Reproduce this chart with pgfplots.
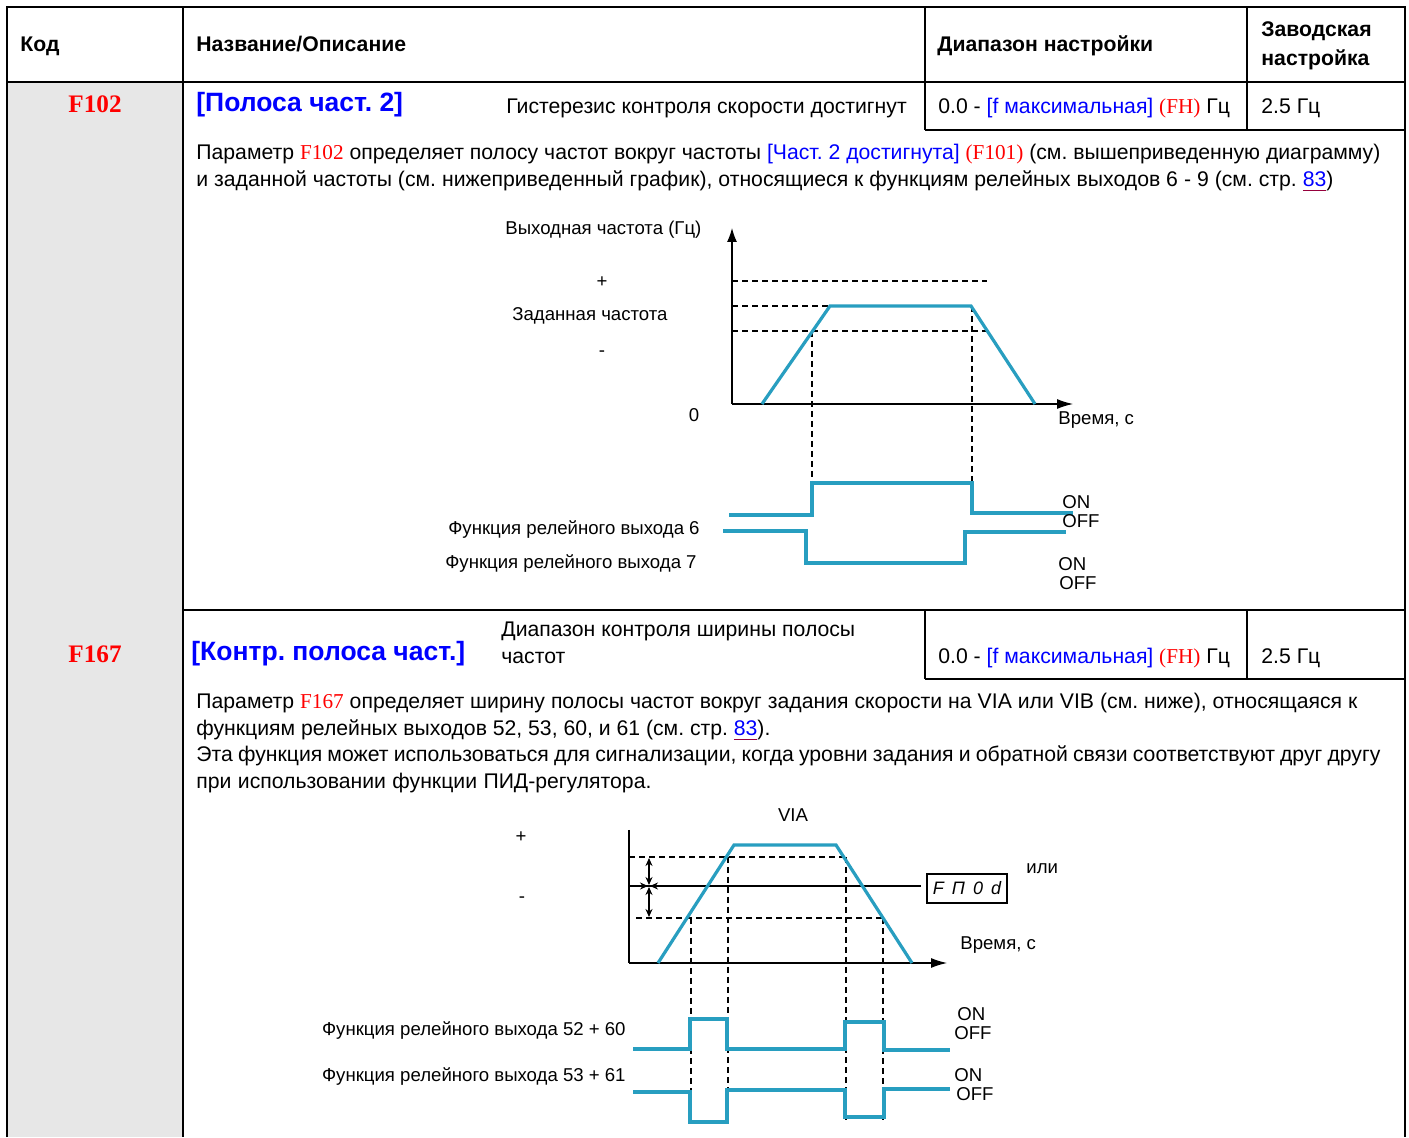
\documentclass[border=0pt]{standalone}
\usepackage{fontspec}
\setmainfont{Liberation Sans}
\newfontfamily\serifr{Liberation Serif}
\usepackage{pgfplots}
\pgfplotsset{compat=1.18}
\usetikzlibrary{arrows.meta}
\tikzset{every node/.style={inner sep=0pt}}
\definecolor{tl}{RGB}{40,158,192}
\definecolor{gr}{RGB}{231,231,231}
\definecolor{ulc}{RGB}{150,0,60}
\frenchspacing
\newcommand{\fs}[1]{\fontsize{#1}{#1}\selectfont}
\newcommand{\rd}[1]{{\serifr\color{red}#1}}
\newcommand{\bl}[1]{{\color{blue}#1}}
\newcommand{\lnk}[1]{\setbox0\hbox{#1}\rlap{\color{ulc}\rule[-2pt]{\wd0}{0.7pt}}{\color{blue}#1}}
\newcommand{\jl}[2]{\hbox to #1{#2}}
\newcommand{\bd}{\fs{10.6}}
\newcommand{\dg}{\fs{9.3}}
\newcommand{\hd}{\fs{10.6}\bfseries}
\newcommand{\ttl}{\fs{13.25}\bfseries\color{blue}}
\begin{document}
\begin{tikzpicture}
\begin{axis}[width=704.5pt,height=568.5pt,scale only axis,xmin=0,xmax=1409,ymin=0,ymax=1137,y dir=reverse,hide axis,clip=false,no markers]
% background
\addplot[fill=white,draw=none] coordinates {(0,0) (1409,0) (1409,1137) (0,1137)} -- cycle;
\addplot[fill=gr,draw=none] coordinates {(7,82) (183,82) (183,1137) (7,1137)} -- cycle;
% table lines
\addplot[black,line width=0.8pt] coordinates {(7,1137) (7,7) (1405,7) (1405,1137)};
\addplot[black,line width=0.8pt] coordinates {(7,82) (1405,82)};
\addplot[black,line width=0.8pt] coordinates {(183,7) (183,1137)};
\addplot[black,line width=0.8pt] coordinates {(925,7) (925,130)};
\addplot[black,line width=0.8pt] coordinates {(1247,7) (1247,130)};
\addplot[black,line width=0.8pt] coordinates {(925,130) (1405,130)};
\addplot[black,line width=0.8pt] coordinates {(183,610) (1405,610)};
\addplot[black,line width=0.8pt] coordinates {(925,610) (925,679)};
\addplot[black,line width=0.8pt] coordinates {(1247,610) (1247,679)};
\addplot[black,line width=0.8pt] coordinates {(925,679) (1405,679)};
% header
\node[anchor=base west] at (axis cs:20,52) {\hd Код};
\node[anchor=base west] at (axis cs:196,52) {\hd Название/Описание};
\node[anchor=base west] at (axis cs:937,52) {\hd Диапазон настройки};
\node[anchor=base west] at (axis cs:1261,37) {\hd Заводская};
\node[anchor=base west] at (axis cs:1261,66) {\hd настройка};
% F102 row
\node[anchor=base] at (axis cs:95,113) {\fs{12.6}\serifr\bfseries\color{red}F102};
\node[anchor=base west] at (axis cs:196,112) {\ttl [Полоса част. 2]};
\node[anchor=base west] at (axis cs:506,114) {\bd Гистерезис контроля скорости достигнут};
\node[anchor=base west] at (axis cs:938,114) {\bd 0.0 - \bl{[f максимальная]} \rd{(FH)} Гц};
\node[anchor=base west] at (axis cs:1261,114) {\bd 2.5 Гц};
\node[anchor=base west] at (axis cs:196,160) {\bd\jl{592pt}{Параметр \rd{F102} определяет полосу частот вокруг частоты \bl{[Част. 2 достигнута]} \rd{(F101)} (см. вышеприведенную диаграмму)}};
\node[anchor=base west] at (axis cs:196,187) {\bd\jl{568.5pt}{и заданной частоты (см. нижеприведенный график), относящиеся к функциям релейных выходов 6 - 9 (см. стр. \lnk{83})}};
% diagram 1
\addplot[black,line width=0.6pt,-{Latex[length=7pt,width=5pt]}] coordinates {(732,404) (732,228)};
\addplot[black,line width=0.6pt,-{Latex[length=8pt,width=5pt]}] coordinates {(732,404) (1073,404)};
\addplot[black,line width=0.6pt,dash pattern=on 3pt off 2pt] coordinates {(732,281) (987,281)};
\addplot[black,line width=0.6pt,dash pattern=on 3pt off 2pt] coordinates {(732,306) (830,306)};
\addplot[black,line width=0.6pt,dash pattern=on 3pt off 2pt] coordinates {(732,331) (987,331)};
\addplot[black,line width=0.6pt,dash pattern=on 3pt off 2pt] coordinates {(812,331) (812,483)};
\addplot[black,line width=0.6pt,dash pattern=on 3pt off 2pt] coordinates {(972,306) (972,483)};
\addplot[tl,line width=1.6pt] coordinates {(762,404) (830,306) (971,306) (1035,404)};
\addplot[tl,line width=1.6pt] coordinates {(729,515) (812,515) (812,483) (972,483) (972,513) (1073,513)};
\addplot[tl,line width=1.6pt] coordinates {(723,531) (806,531) (806,563) (965,563) (965,532) (1066,532)};
\node[anchor=base west] at (axis cs:505,235) {\dg Выходная частота (Гц)};
\node[anchor=base] at (axis cs:602,288) {\dg +};
\node[anchor=base west] at (axis cs:512,321) {\dg Заданная частота};
\node[anchor=base] at (axis cs:602,357) {\dg -};
\node[anchor=base] at (axis cs:694,422) {\dg 0};
\node[anchor=base west] at (axis cs:1058,425) {\dg Время, с};
\node[anchor=base east] at (axis cs:700,535) {\dg Функция релейного выхода 6};
\node[anchor=base east] at (axis cs:697,569) {\dg Функция релейного выхода 7};
\node[anchor=base west] at (axis cs:1062,509) {\dg ON};
\node[anchor=base west] at (axis cs:1062,528) {\dg OFF};
\node[anchor=base west] at (axis cs:1058,571) {\dg ON};
\node[anchor=base west] at (axis cs:1059,590) {\dg OFF};
% F167 row
\node[anchor=base] at (axis cs:95,663) {\fs{12.6}\serifr\bfseries\color{red}F167};
\node[anchor=base west] at (axis cs:191,661) {\ttl [Контр. полоса част.]};
\node[anchor=base west] at (axis cs:501,637) {\bd Диапазон контроля ширины полосы};
\node[anchor=base west] at (axis cs:501,664) {\bd частот};
\node[anchor=base west] at (axis cs:938,664) {\bd 0.0 - \bl{[f максимальная]} \rd{(FH)} Гц};
\node[anchor=base west] at (axis cs:1261,664) {\bd 2.5 Гц};
\node[anchor=base west] at (axis cs:196,709) {\bd\jl{580.5pt}{Параметр \rd{F167} определяет ширину полосы частот вокруг задания скорости на VIA или VIB (см. ниже), относящаяся к}};
\node[anchor=base west] at (axis cs:196,736) {\bd\jl{287pt}{функциям релейных выходов 52, 53, 60, и 61 (см. стр. \lnk{83}).}};
\node[anchor=base west] at (axis cs:196,762) {\bd\jl{592pt}{Эта функция может использоваться для сигнализации, когда уровни задания и обратной связи соответствуют друг другу}};
\node[anchor=base west] at (axis cs:196,789) {\bd\jl{227.5pt}{при использовании функции ПИД-регулятора.}};
% diagram 2
\addplot[black,line width=0.6pt] coordinates {(629,830) (629,963)};
\addplot[black,line width=0.6pt,-{Latex[length=8pt,width=5pt]}] coordinates {(629,963) (947,963)};
\addplot[black,line width=0.6pt] coordinates {(629,886) (921,886)};
\addplot[black,line width=0.6pt,dash pattern=on 3pt off 2pt] coordinates {(629,857) (846,857)};
\addplot[black,line width=0.6pt,dash pattern=on 3pt off 2pt] coordinates {(636,918) (883,918)};
\addplot[black,line width=0.6pt,dash pattern=on 3pt off 2pt] coordinates {(691,918) (691,1120)};
\addplot[black,line width=0.6pt,dash pattern=on 3pt off 2pt] coordinates {(728,857) (728,1120)};
\addplot[black,line width=0.6pt,dash pattern=on 3pt off 2pt] coordinates {(846,857) (846,1120)};
\addplot[black,line width=0.6pt,dash pattern=on 3pt off 2pt] coordinates {(883,918) (883,1120)};
\addplot[black,line width=0.6pt,{Stealth[length=4pt,width=3.5pt]}-{Stealth[length=4pt,width=3.5pt]}] coordinates {(649,858) (649,885)};
\addplot[black,line width=0.6pt,{Stealth[length=4pt,width=3.5pt]}-{Stealth[length=4pt,width=3.5pt]}] coordinates {(649,887) (649,917)};
\addplot[black,line width=0.6pt,-{Stealth[length=4pt,width=3.5pt]}] coordinates {(633,886) (648,886)};
\addplot[black,line width=0.6pt,-{Stealth[length=4pt,width=3.5pt]}] coordinates {(665,886) (650,886)};
\addplot[tl,line width=1.6pt] coordinates {(658,963) (734,845) (836,845) (912,963)};
\addplot[black,line width=0.8pt,fill=white] coordinates {(927,874) (1007,874) (1007,903) (927,903)} -- cycle;
\node at (axis cs:967,888.5) {\fs{9}\itshape F\hspace{4pt}П\hspace{4pt}0\hspace{4pt}d};
\addplot[tl,line width=1.6pt] coordinates {(633,1049) (690,1049) (690,1019) (727,1019) (727,1049) (845,1049) (845,1022) (884,1022) (884,1050) (950,1050)};
\addplot[tl,line width=1.6pt] coordinates {(633,1092) (690,1092) (690,1122) (727,1122) (727,1090) (845,1090) (845,1117) (884,1117) (884,1089) (950,1089)};
\node at (axis cs:793,815) {\dg VIA};
\node[anchor=base] at (axis cs:521,843) {\dg +};
\node[anchor=base] at (axis cs:522,903) {\dg -};
\node[anchor=base west] at (axis cs:1026,874) {\dg или};
\node[anchor=base west] at (axis cs:960,950) {\dg Время, с};
\node[anchor=base east] at (axis cs:626,1036) {\dg Функция релейного выхода 52 + 60};
\node[anchor=base east] at (axis cs:626,1081) {\dg Функция релейного выхода 53 + 61};
\node[anchor=base west] at (axis cs:957,1021) {\dg ON};
\node[anchor=base west] at (axis cs:954,1039) {\dg OFF};
\node[anchor=base west] at (axis cs:954,1081) {\dg ON};
\node[anchor=base west] at (axis cs:956,1100) {\dg OFF};
\end{axis}
\end{tikzpicture}
\end{document}
